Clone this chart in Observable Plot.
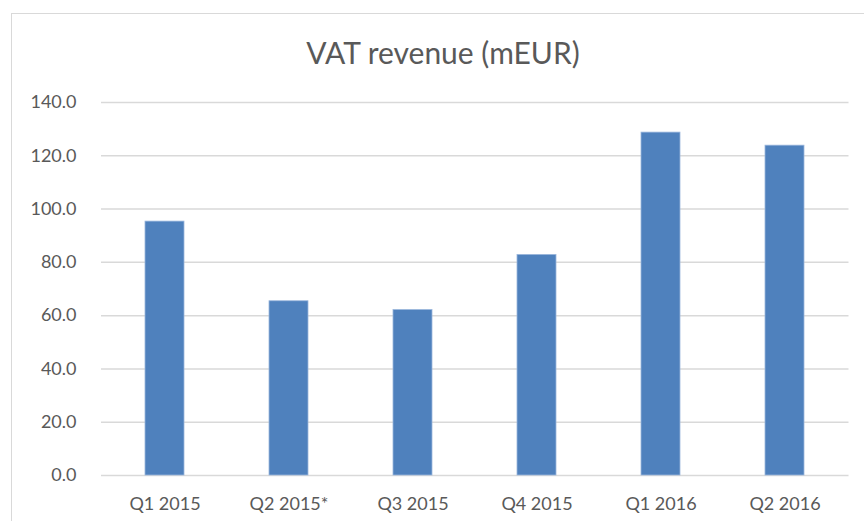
<!DOCTYPE html>
<html>
<head>
<meta charset="utf-8">
<script src="https://cdn.jsdelivr.net/npm/d3@7"></script>
<script src="https://cdn.jsdelivr.net/npm/@observablehq/plot@0.6"></script>
<style>
  html, body { margin: 0; padding: 0; background: #fff; width: 864px; height: 521px; overflow: hidden; }
  #frame { position: absolute; left: 11px; top: 13px; width: 1000px; height: 700px; border: 1.5px solid #d9d9d9; box-sizing: border-box; }
  #title { position: absolute; left: 0; width: 886px; top: 37px; text-align: center; font-family: Lato, sans-serif; font-size: 30px; color: #595959; line-height: 1; }
  #chart { position: absolute; left: 0; top: 80px; }
</style>
</head>
<body>
<div id="frame"></div>
<div id="title">VAT revenue (mEUR)</div>
<div id="chart"></div>
<script>
const quarters = ["Q1 2015", "Q2 2015*", "Q3 2015", "Q4 2015", "Q1 2016", "Q2 2016"];
const revenue = [95.3, 65.4, 62.1, 82.8, 128.7, 123.8];
const yTicks = [0, 20, 40, 60, 80, 100, 120, 140];

const data = quarters.map((q, i) => ({quarter: q, value: revenue[i]}));

const chart = Plot.plot({
  width: 864,
  height: 441,
  marginTop: 22,
  marginBottom: 46,
  marginLeft: 101,
  marginRight: 15.5,
  style: {fontFamily: "Lato, sans-serif", fontSize: "18px", color: "#595959", background: "transparent"},
  x: {domain: quarters, paddingInner: 0.687, paddingOuter: 0.3435, label: null},
  y: {domain: [0, 140], label: null},
  marks: [
    Plot.gridY(yTicks, {stroke: "#d9d9d9", strokeOpacity: 1, strokeWidth: 1.5}),
    Plot.barY(data, {x: "quarter", y: "value", fill: "#4f81bd", stroke: "#9bb7dd", strokeWidth: 0.8}),
    Plot.axisY(yTicks, {tickSize: 0, tickPadding: 25, tickFormat: d => d.toFixed(1), fill: "#595959", label: null}),
    Plot.axisX({tickSize: 0, tickPadding: 22, fill: "#595959", label: null})
  ]
});
document.getElementById("chart").appendChild(chart);
</script>
</body>
</html>
